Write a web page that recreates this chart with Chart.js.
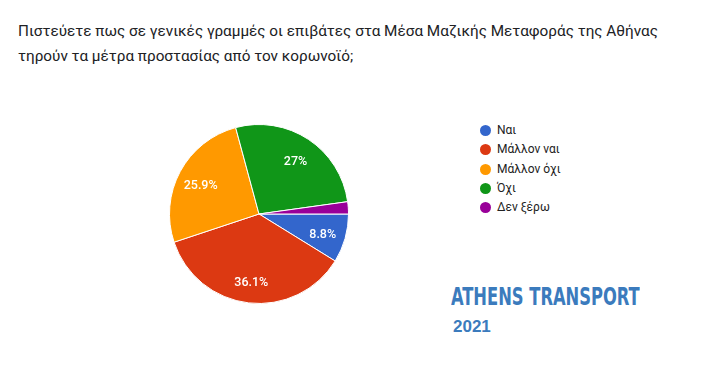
<!DOCTYPE html>
<html>
<head>
<meta charset="utf-8">
<script src="https://cdn.jsdelivr.net/npm/chart.js@4"></script>
<style>
html,body{margin:0;padding:0;background:#fff;}
body{width:712px;height:366px;position:relative;overflow:hidden;font-family:Roboto,"Liberation Sans",Arial,sans-serif;}
#title{position:absolute;left:18px;top:19px;font-size:15.3px;line-height:25px;color:#202124;}
#wrap{position:absolute;left:159px;top:114px;width:200px;height:200px;}
#legend{position:absolute;left:480px;top:121px;font-size:12px;color:#222;}
#legend div{height:19.3px;line-height:19px;display:flex;align-items:center;}
#legend span.dot{width:11px;height:11px;border-radius:50%;display:inline-block;margin-right:6px;}
#brand{position:absolute;left:451px;top:283px;font-family:"DejaVu Sans Condensed","Liberation Sans",sans-serif;font-weight:bold;font-size:24px;color:#3b7bbd;transform-origin:0 0;transform:scaleX(0.8);white-space:nowrap;}
#year{position:absolute;left:453px;top:317px;font-family:"Liberation Sans",Arial,sans-serif;font-weight:bold;font-size:17px;color:#3b7bbd;}
</style>
</head>
<body>
<div id="title">Πιστεύετε πως σε γενικές γραμμές οι επιβάτες στα Μέσα Μαζικής Μεταφοράς της Αθήνας<br>τηρούν τα μέτρα προστασίας από τον κορωνοϊό;</div>
<div id="wrap"><canvas id="c" width="200" height="200"></canvas></div>
<div id="legend"></div>
<div id="brand">ATHENS TRANSPORT</div>
<div id="year">2021</div>
<script>
const categories = ["Ναι", "Μάλλον ναι", "Μάλλον όχι", "Όχι", "Δεν ξέρω"];
const values = [8.8, 36.1, 25.9, 27, 2.2];
const labels = ["8.8%", "36.1%", "25.9%", "27%", ""];
const colors = ["#3366cc", "#dc3912", "#ff9900", "#109618", "#990099"];

const legend = document.getElementById('legend');
categories.forEach((c, i) => {
  const d = document.createElement('div');
  d.innerHTML = '<span class="dot" style="background:' + colors[i] + '"></span>' + c;
  legend.appendChild(d);
});

// fit brand width
const brand = document.getElementById('brand');
const bw = brand.scrollWidth;
brand.style.transform = 'scaleX(' + (189 / bw) + ')';

const sliceLabels = {
  id: 'sliceLabels',
  afterDatasetsDraw(chart) {
    const ctx = chart.ctx;
    const meta = chart.getDatasetMeta(0);
    ctx.save();
    ctx.fillStyle = '#fff';
    ctx.font = '500 12.5px Roboto, "Liberation Sans", Arial, sans-serif';
    ctx.textAlign = 'center';
    ctx.textBaseline = 'middle';
    meta.data.forEach((arc, i) => {
      if (!labels[i]) return;
      const p = arc.getProps(['x', 'y', 'startAngle', 'endAngle', 'outerRadius'], true);
      const a = (p.startAngle + p.endAngle) / 2;
      const r = p.outerRadius * 0.74;
      ctx.fillText(labels[i], p.x + Math.cos(a) * r, p.y + Math.sin(a) * r + 3);
    });
    ctx.restore();
  }
};

new Chart(document.getElementById('c'), {
  type: 'pie',
  data: {
    labels: categories,
    datasets: [{
      data: values,
      backgroundColor: colors,
      borderColor: '#ffffff',
      borderWidth: 1
    }]
  },
  options: {
    responsive: false,
    animation: false,
    rotation: 90,
    layout: { padding: 10 },
    plugins: { legend: { display: false }, tooltip: { enabled: false } }
  },
  plugins: [sliceLabels]
});
</script>
</body>
</html>
